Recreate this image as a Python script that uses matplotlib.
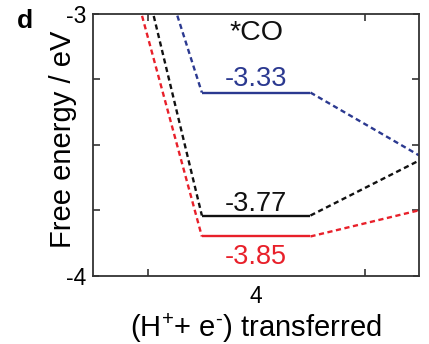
import matplotlib
matplotlib.use("Agg")
import matplotlib.pyplot as plt

plt.rcParams['font.family'] = ['Liberation Sans', 'DejaVu Sans']
plt.rcParams['mathtext.fontset'] = 'custom'
plt.rcParams['mathtext.rm'] = 'Liberation Sans'
plt.rcParams['mathtext.it'] = 'Liberation Sans'

# steps (H+ + e-) transferred and free energies (eV)
steps = [3, 4, 5]
red_energy = [-2.32, -3.85, -3.75]
black_energy = [-2.05, -3.77, -3.56]
blue_energy = [-2.00, -3.30, -3.54]
level_labels = ['-3.85', '-3.77', '-3.33']

red = '#e8202a'
black = '#111111'
blue = '#2b3990'

fig = plt.figure(figsize=(4.29, 3.44), dpi=100)
ax = fig.add_axes([0.2175, 0.1985, 0.7592, 0.7607])


def draw_path(energy, color):
    for i in range(len(steps)):
        s = steps[i]
        ax.plot([s - 0.25, s + 0.25], [energy[i], energy[i]], color=color, lw=1.7,
                solid_capstyle='butt')
        if i < len(steps) - 1:
            ax.plot([s + 0.25, steps[i + 1] - 0.25], [energy[i], energy[i + 1]],
                    color=color, lw=1.7, ls=(0, (2.2, 1.5)))


draw_path(red_energy, red)
draw_path(black_energy, black)
draw_path(blue_energy, blue)

# level labels at step 4
ax.annotate(level_labels[2], (4, blue_energy[1]), xytext=(0, 5), textcoords='offset points',
            ha='center', va='baseline', fontsize=19.5, color=blue)
ax.annotate(level_labels[1], (4, black_energy[1]), xytext=(0, 3.6), textcoords='offset points',
            ha='center', va='baseline', fontsize=19.5, color=black)
ax.annotate(level_labels[0], (4, red_energy[1]), xytext=(0, -19.5), textcoords='offset points',
            ha='center', va='baseline', fontsize=19.5, color=red)
ax.text(4, -3.099, '*CO', ha='center', va='baseline', fontsize=20.5, color=black)

ax.set_xlim(3.25, 4.75)
ax.set_ylim(-4, -3)
ax.set_xticks([4])
ax.set_xticklabels(['4'])
ax.set_xticks([3.5, 4.5], minor=True)
ax.set_yticks([-4, -3])
ax.set_yticklabels(['-4', '-3'])
ax.set_yticks([-3.75, -3.5, -3.25], minor=True)
ax.tick_params(axis='both', which='both', direction='in', top=True, right=True,
               labelsize=16.5, width=1.2, color='#333333')
ax.tick_params(axis='x', which='major', length=0, pad=7)
ax.tick_params(axis='y', which='major', length=4, pad=5)
ax.tick_params(axis='both', which='minor', length=5)
for sp in ax.spines.values():
    sp.set_linewidth(1.3)
    sp.set_color('#333333')

ax.set_ylabel('Free energy / eV', fontsize=21)
ax.yaxis.set_label_coords(-0.05, 0.522)
ax.set_xlabel(r'(H$^{+}$+ e$^{\text{-}}$) transferred', fontsize=21, labelpad=2)

fig.text(0.058, 0.918, 'd', fontsize=19, fontweight='bold', ha='center', va='baseline')

fig.savefig('out.png', dpi=100)
